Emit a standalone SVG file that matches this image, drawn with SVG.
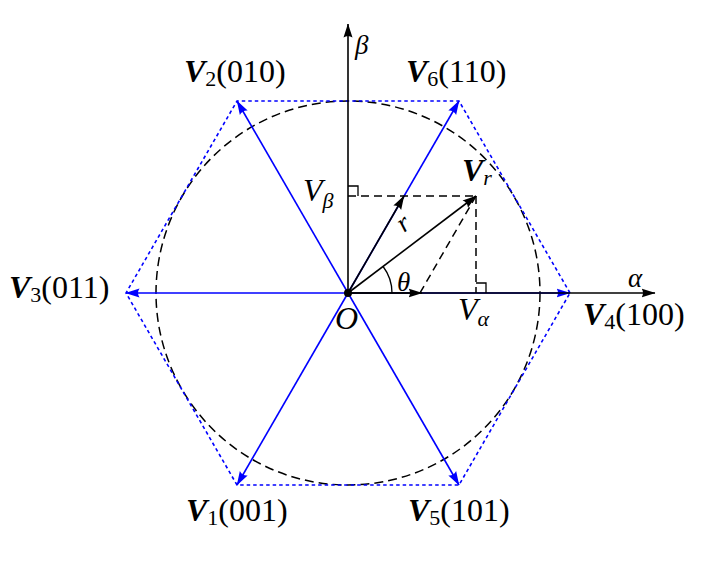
<svg xmlns="http://www.w3.org/2000/svg" width="711" height="563" viewBox="0 0 711 563">
<style>
.lbl{font-family:"Liberation Serif","Times New Roman",serif;font-size:32px;fill:#000}
.bv{font-weight:bold;font-style:italic}
.it{font-style:italic}
.sub{font-size:22px}
.sm{font-size:27px}
.ax{stroke:#000;stroke-width:1.6;fill:none}
.bl{stroke:#0000ff;stroke-width:1.6;fill:none}
.hex{stroke:#0000ff;stroke-width:1.6;fill:none;stroke-dasharray:3.5 3}
.circ{stroke:#000;stroke-width:1.5;fill:none;stroke-dasharray:9 5}
.dsh{stroke:#000;stroke-width:1.5;fill:none;stroke-dasharray:8 5}
.thin{stroke:#000;stroke-width:1.3;fill:none}
</style>
<defs>
<marker id="ab" viewBox="0 0 14 10" refX="13.5" refY="5" markerWidth="14" markerHeight="10" markerUnits="userSpaceOnUse" orient="auto">
<path d="M0,0.5 L14,5 L0,9.5 Q3,5 0,0.5 z" fill="#000"/>
</marker>
<marker id="ablue" viewBox="0 0 14 10" refX="13.5" refY="5" markerWidth="14" markerHeight="10" markerUnits="userSpaceOnUse" orient="auto">
<path d="M0,0.5 L14,5 L0,9.5 Q3,5 0,0.5 z" fill="#0000ff"/>
</marker>
</defs>
<g id="guides">
<circle class="circ" cx="348" cy="293" r="192"/>
<polygon class="hex" points="570,293 459,101 237,101 126,293 237,485 459,485"/>
</g>
<g id="connectors">
<line class="bl" x1="348" y1="293" x2="570" y2="293" marker-end="url(#ablue)"/>
<line class="bl" x1="348" y1="293" x2="126" y2="293" marker-end="url(#ablue)"/>
<line class="bl" x1="348" y1="293" x2="459" y2="101" marker-end="url(#ablue)"/>
<line class="bl" x1="348" y1="293" x2="237" y2="101" marker-end="url(#ablue)"/>
<line class="bl" x1="348" y1="293" x2="237" y2="485" marker-end="url(#ablue)"/>
<line class="bl" x1="348" y1="293" x2="459" y2="485" marker-end="url(#ablue)"/>
<line class="ax" x1="348" y1="293" x2="655" y2="293" marker-end="url(#ab)"/>
<line class="ax" x1="348" y1="293" x2="348" y2="24" marker-end="url(#ab)"/>
<line class="ax" x1="348" y1="293" x2="422" y2="293" marker-end="url(#ab)"/>
<line class="ax" x1="348" y1="293" x2="404" y2="196" marker-end="url(#ab)"/>
<line class="ax" x1="348" y1="293" x2="476" y2="196" marker-end="url(#ab)"/>
<line class="dsh" x1="348" y1="196" x2="476" y2="196"/>
<line class="dsh" x1="476" y1="196" x2="476" y2="293"/>
<line class="dsh" x1="476" y1="196" x2="420" y2="293"/>
<path class="thin" d="M348,186 H358 V196"/>
<path class="thin" d="M476,283 H486 V293"/>
<path class="thin" d="M392,293 A44,44 0 0 0 383.1,266.5"/>
<circle cx="348" cy="293" r="4" fill="#000"/>
</g>
<g id="axis-labels">
<text class="lbl it sm" x="355" y="54">β</text>
<text class="lbl it sm" x="628" y="287">α</text>
<text class="lbl it" x="335" y="329">O</text>
<text class="lbl it sm" x="397" y="291">θ</text>
<text class="lbl it sm" x="0" y="0" transform="translate(404,233) rotate(-37)">r</text>
</g>
<g id="proj-labels">
<text class="lbl" x="303" y="201"><tspan class="it">V</tspan><tspan class="it sub" dy="7">β</tspan></text>
<text class="lbl" x="458" y="320"><tspan class="it">V</tspan><tspan class="it sub" dy="6">α</tspan></text>
<text class="lbl" x="462" y="181"><tspan class="bv">V</tspan><tspan class="it sub" dy="4">r</tspan></text>
</g>
<g id="V2"><text class="lbl" x="184" y="82"><tspan class="bv">V</tspan><tspan class="sub" dy="4">2</tspan><tspan dy="-4">(010)</tspan></text></g>
<g id="V6"><text class="lbl" x="406" y="82"><tspan class="bv">V</tspan><tspan class="sub" dy="4">6</tspan><tspan dy="-4">(110)</tspan></text></g>
<g id="V3"><text class="lbl" x="9" y="298"><tspan class="bv">V</tspan><tspan class="sub" dy="4">3</tspan><tspan dy="-4">(011)</tspan></text></g>
<g id="V4"><text class="lbl" x="583" y="325"><tspan class="bv">V</tspan><tspan class="sub" dy="4">4</tspan><tspan dy="-4">(100)</tspan></text></g>
<g id="V1"><text class="lbl" x="186" y="521"><tspan class="bv">V</tspan><tspan class="sub" dy="4">1</tspan><tspan dy="-4">(001)</tspan></text></g>
<g id="V5"><text class="lbl" x="408" y="521"><tspan class="bv">V</tspan><tspan class="sub" dy="4">5</tspan><tspan dy="-4">(101)</tspan></text></g>
</svg>
